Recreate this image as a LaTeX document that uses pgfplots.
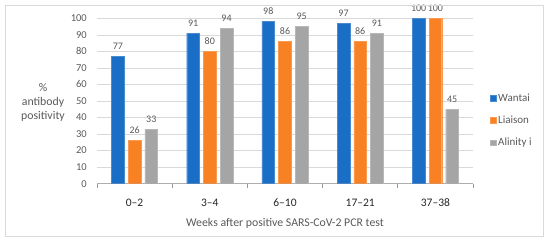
\documentclass[border=0pt]{standalone}
\usepackage{fontspec}
\setmainfont{Carlito}
\usepackage{pgfplots}
\pgfplotsset{compat=1.18}
\definecolor{cBlue}{HTML}{1A6EC6}
\definecolor{cOrange}{HTML}{F88124}
\definecolor{cGray}{HTML}{A5A5A5}
\definecolor{txtGray}{HTML}{595959}
\definecolor{gridGray}{HTML}{D9D9D9}
\begin{document}
\begin{tikzpicture}
  \begin{axis}[
    scale only axis, width=376pt, height=165.4pt,
    ybar=4pt, bar width=12.7pt,
    xmin=-0.5, xmax=4.5, ymin=0, ymax=100,
    ytick={0,10,...,100},
    xtick={0,1,2,3,4},
    xticklabels={0--2,3--4,6--10,17--21,37--38},
    /pgf/number format/assume math mode=true,
    extra x ticks={-0.5,0.5,1.5,2.5,3.5,4.5},
    extra x tick labels={},
    extra x tick style={major tick length=4pt, tick align=outside, tick style={gridGray!70!black, line width=0.6pt}},
    major tick length=0pt,
    ymajorgrids, grid style={gridGray, line width=0.6pt},
    axis x line*=bottom, axis y line*=left,
    x axis line style={gridGray!80!black, line width=0.6pt, -},
    y axis line style={draw=none},
    yticklabel style={font=\fontsize{10.5}{12}\selectfont, text=txtGray, anchor=east, inner sep=0pt, xshift=-10pt},
    xticklabel style={font=\fontsize{11.5}{13}\selectfont, text=black!85, anchor=base, inner sep=0pt, yshift=-22.5pt},
    xlabel={Weeks after positive SARS-CoV-2 PCR test},
    xlabel style={font=\fontsize{11.8}{14}\selectfont, text=txtGray, at={(axis description cs:0.5,0)}, anchor=base, inner sep=0pt, yshift=-42.5pt},
    nodes near coords,
    every node near coord/.append style={font=\fontsize{10}{12}\selectfont, text=txtGray, yshift=3.5pt},
    legend style={at={(1,0.382)}, anchor=west, xshift=14pt, draw=none, fill=none,
      font=\fontsize{11}{13}\selectfont, text=txtGray, row sep=9pt,
      /tikz/every even column/.append style={column sep=1pt}},
    legend cell align=left,
    legend image code/.code={\fill[#1] (0pt,-2.8pt) rectangle (5.6pt,2.8pt);},
  ]
    \addplot[fill=cBlue, draw=cBlue!80!white, line width=0.4pt] coordinates {(0,77)(1,91)(2,98)(3,97)(4,100)};
    \addplot[fill=cOrange, draw=cOrange!80!white, line width=0.4pt] coordinates {(0,26)(1,80)(2,86)(3,86)(4,100)};
    \addplot[fill=cGray, draw=cGray!80!white, line width=0.4pt] coordinates {(0,33)(1,94)(2,95)(3,91)(4,45)};
    \legend{Wantai,Liaison,Alinity i}
    \coordinate (O) at (axis cs:-0.5,0);
  \end{axis}
  \path[fill=white, fill opacity=0] ([shift={(-97pt,-58.3pt)}]O) rectangle ([shift={(453pt,183.7pt)}]O);
  \draw[gridGray, line width=0.8pt] ([shift={(-91.5pt,-52.8pt)}]O) rectangle ([shift={(446.5pt,178.2pt)}]O);
  \node[align=center, text=txtGray, font=\fontsize{11.8}{14}\selectfont] at ([shift={(-54pt,81.7pt)}]O) {\%\\antibody\\positivity};
\end{tikzpicture}
\end{document}
